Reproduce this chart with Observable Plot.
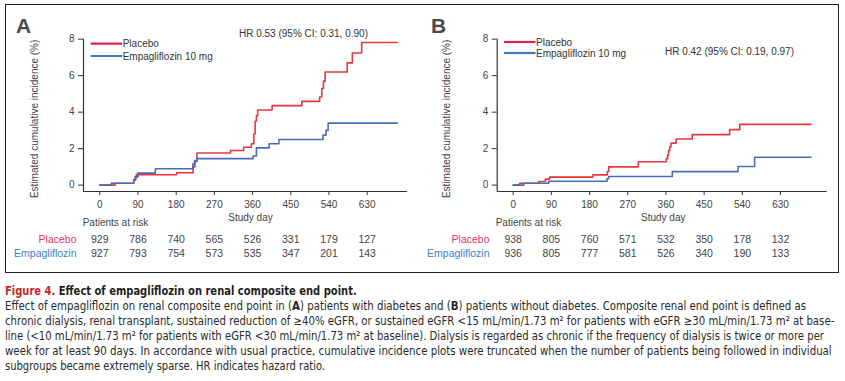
<!DOCTYPE html>
<html><head><meta charset="utf-8">
<script src="https://cdn.jsdelivr.net/npm/d3@7"></script>
<script src="https://cdn.jsdelivr.net/npm/@observablehq/plot@0.6"></script>
<style>
body{margin:0;background:#fff;}
#fig{position:relative;width:845px;height:381px;overflow:hidden;font-family:"Liberation Sans",Arial,sans-serif;}
.abs{position:absolute;top:0;}
.cap{position:absolute;left:5px;white-space:nowrap;line-height:15px;transform-origin:0 50%;font-family:"Liberation Sans Narrow","DejaVu Sans Condensed","Liberation Sans",Arial,sans-serif;color:#2a2a2a;}
</style></head>
<body>
<div id="fig">
  <div id="pa" class="abs" style="left:0;width:422px;height:272px"></div>
  <div id="pb" class="abs" style="left:422px;width:416px;height:272px"></div>
  <svg id="ov" class="abs" style="left:0" width="845" height="275"></svg>
  <div style="position:absolute;left:5px;top:4px;width:834px;height:269px;box-sizing:border-box;border:1.5px solid #222;pointer-events:none"></div>
  <div id="caption"></div>
</div>
<script>
// ---------- data ----------
const tickDays = [0, 90, 180, 270, 360, 450, 540, 630];
const yTicks = [0, 2, 4, 6, 8];

// Panel A (patients with diabetes)
const aPlaceboDay = [0, 36, 80, 85, 90, 181, 220, 224, 229, 308, 339, 357, 363, 366, 369, 372, 406, 476, 518, 523, 527, 531, 583, 595, 617, 701];
const aPlaceboPct = [0, 0.1, 0.3, 0.45, 0.57, 0.68, 1.0, 1.35, 1.76, 1.9, 2.08, 2.27, 2.8, 3.5, 3.8, 4.12, 4.36, 4.59, 4.83, 5.3, 5.7, 6.2, 6.7, 7.24, 7.82, 7.82];
const aEmpaDay = [0, 27, 80, 83, 86, 89, 131, 219, 223, 229, 361, 369, 399, 422, 526, 533, 538, 701];
const aEmpaPct = [0, 0.1, 0.25, 0.45, 0.56, 0.66, 0.9, 1.15, 1.3, 1.45, 1.6, 2.04, 2.27, 2.5, 2.74, 3.0, 3.4, 3.4];
const aRiskPlacebo = [929, 786, 740, 565, 526, 331, 179, 127];
const aRiskEmpa = [927, 793, 754, 573, 535, 347, 201, 143];

// Panel B (patients without diabetes)
const bPlaceboDay = [0, 15, 60, 76, 86, 188, 222, 225, 295, 361, 364, 366, 369, 372, 384, 422, 510, 534, 702];
const bPlaceboPct = [0, 0.1, 0.2, 0.33, 0.44, 0.56, 0.75, 1.0, 1.28, 1.45, 1.65, 1.9, 2.1, 2.3, 2.53, 2.77, 3.04, 3.33, 3.33];
const bEmpaDay = [0, 25, 84, 221, 225, 375, 530, 569, 702];
const bEmpaPct = [0, 0.1, 0.21, 0.35, 0.47, 0.74, 1.02, 1.53, 1.53];
const bRiskPlacebo = [938, 805, 760, 571, 532, 350, 178, 132];
const bRiskEmpa = [936, 805, 777, 581, 526, 340, 190, 133];

const hrA = "HR 0.53 (95% CI: 0.31, 0.90)";
const hrB = "HR 0.42 (95% CI: 0.19, 0.97)";

// ---------- styles ----------
const RED = "#e8363e", BLUE = "#4a6cb8";
const LBL_RED = "#e8336b", LBL_BLUE = "#3d80c6";
const FONT = "'Liberation Sans', Arial, sans-serif";
const yDomain = [-0.35, 8];

function panel(o) {
  return Plot.plot({
    width: o.width, height: 272,
    marginLeft: o.mL, marginRight: o.mR, marginTop: 38.7, marginBottom: 81,
    x: {domain: o.xDomain},
    y: {domain: yDomain},
    style: {fontFamily: FONT, fontSize: "10px", color: "#333", background: "transparent", overflow: "visible"},
    marks: [
      Plot.ruleY([yDomain[0]], {stroke: "#333", strokeWidth: 1.2}),
      Plot.ruleX([o.xDomain[0]], {stroke: "#333", strokeWidth: 1.2}),
      Plot.axisX(tickDays, {tickSize: 4, tickPadding: 5, label: null, fill: "#444", fontSize: 10}),
      Plot.axisY(yTicks, {tickSize: 5, tickPadding: 4, label: null, fill: "#444", fontSize: 10}),
      Plot.text(["Estimated cumulative incidence (%)"], {frameAnchor: "left", textAnchor: "middle", rotate: -90, dx: o.ylabDx, dy: 3.5, fontSize: 10, fill: "#444"}),
      Plot.line(o.pDay, {x: o.pDay, y: o.pPct, curve: "step-after", stroke: RED, strokeWidth: 1.6}),
      Plot.line(o.eDay, {x: o.eDay, y: o.ePct, curve: "step-after", stroke: BLUE, strokeWidth: 1.6}),
      Plot.text(["Study day"], {frameAnchor: "bottom", dx: o.studyDx, dy: 29.7, fontSize: 10, fill: "#444"}),
      Plot.text(["Patients at risk"], {frameAnchor: "bottom-left", dx: o.patDx, dy: 34.7, fontSize: 10, fill: "#444", textAnchor: "middle"}),
      Plot.text(["Placebo"], {frameAnchor: "bottom-left", dx: o.rowDx, dy: 51.3, fontSize: 10.5, fill: LBL_RED, textAnchor: "end"}),
      Plot.text(["Empagliflozin"], {frameAnchor: "bottom-left", dx: o.rowDx, dy: 65.3, fontSize: 10.5, fill: LBL_BLUE, textAnchor: "end"}),
      Plot.text(tickDays, {x: tickDays, text: o.riskP, frameAnchor: "bottom", dy: 51.3, fontSize: 10.5, fill: "#444"}),
      Plot.text(tickDays, {x: tickDays, text: o.riskE, frameAnchor: "bottom", dy: 65.3, fontSize: 10.5, fill: "#444"})
    ]
  });
}

document.getElementById("pa").append(panel({
  width: 422, mL: 83, mR: 15, xDomain: [-38.4, 725],
  pDay: aPlaceboDay, pPct: aPlaceboPct, eDay: aEmpaDay, ePct: aEmpaPct,
  riskP: aRiskPlacebo, riskE: aRiskEmpa,
  ylabDx: -48.5, studyDx: 5, patDx: 32, rowDx: -7
}));
document.getElementById("pb").append(panel({
  width: 416, mL: 74.7, mR: 11.3, xDomain: [-37.7, 740],
  pDay: bPlaceboDay, pPct: bPlaceboPct, eDay: bEmpaDay, ePct: bEmpaPct,
  riskP: bRiskPlacebo, riskE: bRiskEmpa,
  ylabDx: -50.5, studyDx: 1, patDx: 31.3, rowDx: -7.7
}));

// ---------- annotations ----------
const ov = d3.select("#ov").style("font-family", FONT);
ov.append("text").attr("x", 16).attr("y", 33).attr("font-size", 21).attr("font-weight", "bold").attr("fill", "#4a4a4a").text("A");
ov.append("text").attr("x", 431).attr("y", 33).attr("font-size", 21).attr("font-weight", "bold").attr("fill", "#4a4a4a").text("B");
ov.append("text").attr("x", 239).attr("y", 36.6).attr("font-size", 10).attr("fill", "#333").text(hrA);
ov.append("text").attr("x", 665).attr("y", 55.3).attr("font-size", 10).attr("fill", "#333").text(hrB);
function legend(x0, yR, yB) {
  ov.append("line").attr("x1", x0).attr("x2", x0 + 31.5).attr("y1", yR).attr("y2", yR).attr("stroke", "#e3224a").attr("stroke-width", 2.2);
  ov.append("line").attr("x1", x0).attr("x2", x0 + 31.5).attr("y1", yB).attr("y2", yB).attr("stroke", "#3d78c4").attr("stroke-width", 2.2);
  ov.append("text").attr("x", x0 + 32).attr("y", yR + 3.6).attr("font-size", 10).attr("fill", "#333").text("Placebo");
  ov.append("text").attr("x", x0 + 32).attr("y", yB + 3.6).attr("font-size", 10).attr("fill", "#333").text("Empagliflozin 10 mg");
}
legend(90.7, 43.7, 56);
legend(504, 42, 53);

// ---------- caption (HTML, each line scaled horizontally to the reference width) ----------
const capTitle = [["Figure 4.", "red"], [" Effect of empagliflozin on renal composite end point.", "dark"]];
const capLines = [
  ["Effect of empagliflozin on renal composite end point in (", ["A"], ") patients with diabetes and (", ["B"], ") patients without diabetes. Composite renal end point is defined as"],
  ["chronic dialysis, renal transplant, sustained reduction of \u226540% eGFR, or sustained eGFR <15 mL/min/1.73 m\u00b2 for patients with eGFR \u226530 mL/min/1.73 m\u00b2 at base-"],
  ["line (<10 mL/min/1.73 m\u00b2 for patients with eGFR <30 mL/min/1.73 m\u00b2 at baseline). Dialysis is regarded as chronic if the frequency of dialysis is twice or more per"],
  ["week for at least 90 days. In accordance with usual practice, cumulative incidence plots were truncated when the number of patients being followed in individual"],
  ["subgroups became extremely sparse. HR indicates hazard ratio."]
];
const capBase = [295, 310.5, 325.5, 340.5, 355.5, 371];
const capWidth = [351.7, 801, 829.3, 819, 826.7, 320];

const capEl = document.getElementById("caption");
function makeLine(i, parts, bold, fs) {
  const div = document.createElement("div");
  div.className = "cap";
  div.style.fontSize = fs + "px";
  div.style.top = (capBase[i] - (7.5 + fs * 0.905 - fs * 1.117 / 2)) + "px";
  if (bold) div.style.fontWeight = "bold";
  const span = document.createElement("span");
  for (const p of parts) {
    const s = document.createElement("span");
    if (Array.isArray(p) && p[1] === "red") { s.textContent = p[0]; s.style.color = "#d2232a"; }
    else if (Array.isArray(p) && p[1] === "dark") { s.textContent = p[0]; s.style.color = "#1e1e1e"; }
    else if (Array.isArray(p)) { s.textContent = p[0]; s.style.fontWeight = "bold"; }
    else s.textContent = p;
    span.append(s);
  }
  div.append(span);
  capEl.append(div);
  const natural = span.getBoundingClientRect().width;
  div.style.transform = `scaleX(${capWidth[i] / natural})`;
}
makeLine(0, capTitle, true, 12.5);
capLines.forEach((parts, k) => makeLine(k + 1, parts, false, 12));
</script>
</body></html>
